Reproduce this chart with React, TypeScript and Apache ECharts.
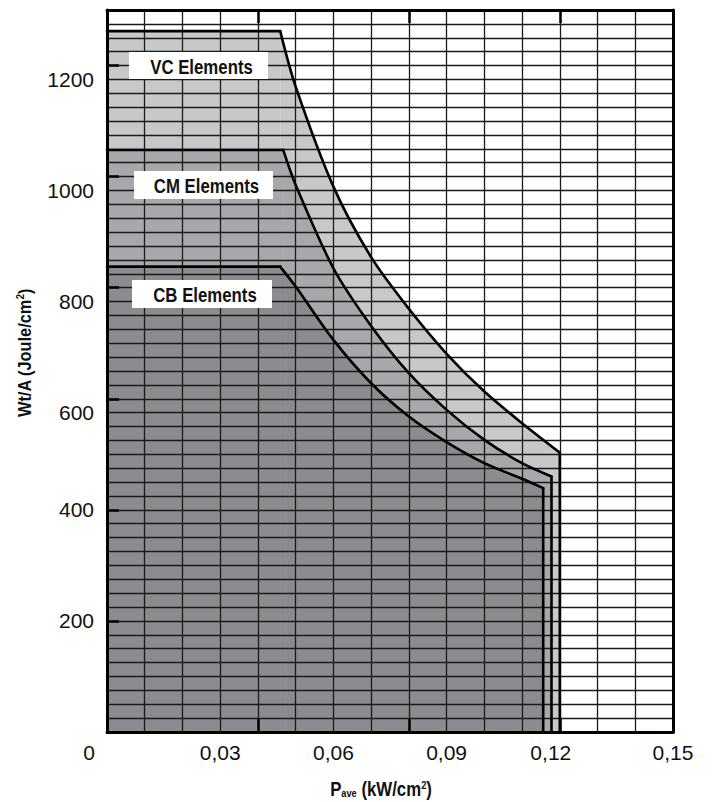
import React, { useEffect, useRef } from "react";
import * as echarts from "echarts";

// ---- data ----
const vcX = [0, 0.0459, 0.05, 0.06, 0.07, 0.08, 0.09, 0.1, 0.11, 0.12, 0.12];
const vcY = [1262, 1262, 1162, 982, 855, 762, 681, 613, 556, 503, 0];
const cmX = [0, 0.0467, 0.05, 0.06, 0.07, 0.08, 0.09, 0.1, 0.11, 0.1178, 0.1178];
const cmY = [1048, 1048, 985, 835, 731, 646, 580, 526, 484, 460, 0];
const cbX = [0, 0.0459, 0.05, 0.06, 0.07, 0.08, 0.09, 0.1, 0.11, 0.1156, 0.1156];
const cbY = [838, 838, 802, 706, 628, 568, 522, 484, 456, 439, 0];

const seriesNames = ["VC Elements", "CM Elements", "CB Elements"];
const xTickValues = [0, 3, 6, 9, 12, 15]; // hundredths
const xTickLabels = ["0", "0,03", "0,06", "0,09", "0,12", "0,15"];
const yTickValues = [200, 400, 600, 800, 1000, 1200];
const yTickLabels = ["200", "400", "600", "800", "1000", "1200"];

const REG = "'Liberation Sans', Arial, Helvetica, sans-serif";

const pairs = (xs: number[], ys: number[]) => xs.map((x, i) => [x, ys[i]]);

export default function App() {
  const ref = useRef<HTMLDivElement>(null);
  useEffect(() => {
    if (!ref.current) return;
    const chart = echarts.init(ref.current, null, { renderer: "svg" });
    const fills = ["#c7c8ca", "#a7a8ab", "#8b8c8f"];
    const datas = [pairs(vcX, vcY), pairs(cmX, cmY), pairs(cbX, cbY)];

    const series: any[] = [];
    datas.forEach((d, i) => {
      const n = d.length;
      const flat = d.slice(0, 2);
      const curve = d.slice(1, n - 1);
      const vert = d.slice(n - 2);
      const zf = 1 + i * 0.1;
      const base = { type: "line", xAxisIndex: 0, yAxisIndex: 0, symbol: "none", silent: true };
      // fills
      series.push({
        ...base,
        name: seriesNames[i] + " fill a",
        data: flat,
        z: zf,
        lineStyle: { width: 0, color: fills[i] },
        areaStyle: { color: fills[i], opacity: 1 },
      });
      series.push({
        ...base,
        name: seriesNames[i] + " fill b",
        data: curve,
        smooth: 0.3,
        z: zf,
        lineStyle: { width: 0, color: fills[i] },
        areaStyle: { color: fills[i], opacity: 1 },
      });
      // outlines
      const ls = { width: 2.6, color: "#000", cap: "round", join: "round" };
      series.push({ ...base, name: seriesNames[i], data: flat, z: 10, lineStyle: ls });
      series.push({
        ...base,
        name: seriesNames[i] + " curve",
        data: curve,
        smooth: 0.3,
        z: 10,
        lineStyle: ls,
      });
      series.push({ ...base, name: seriesNames[i] + " edge", data: vert, z: 10, lineStyle: ls });
    });

    const tickAxisX = (pos: string, line: boolean) => ({
      type: "value",
      min: 0,
      max: 0.15,
      interval: 0.04,
      position: pos,
      z: 6,
      axisLine: { show: line, onZero: false, lineStyle: { color: "#000", width: 3 } },
      axisTick: { show: true, inside: true, length: 13, lineStyle: { color: "#000", width: 2.5 } },
      axisLabel: { show: false },
      splitLine: { show: false },
    });

    const option: any = {
      animation: false,
      grid: { left: 107, right: 42, top: 10, bottom: 70, containLabel: false },
      xAxis: [
        {
          type: "value",
          min: 0,
          max: 0.15,
          interval: 0.01,
          position: "bottom",
          z: 5,
          axisLine: { show: true, onZero: false, lineStyle: { color: "#000", width: 3 } },
          axisTick: { show: false },
          splitLine: { show: true, lineStyle: { color: "#1a1a1a", width: 1.3 } },
          axisLabel: {
            showMinLabel: true,
            showMaxLabel: true,
            margin: 10,
            color: "#111",
            fontSize: 21,
            fontFamily: REG,
            formatter: (v: number) => {
              const k = Math.round(v * 100);
              const i = xTickValues.indexOf(k);
              if (i < 0) return "";
              if (k === 0) return "{z|" + xTickLabels[i] + "}";
              if (k === 12) return "{t|" + xTickLabels[i] + "}";
              return "{n|" + xTickLabels[i] + "}";
            },
            rich: {
              n: { fontSize: 21, fontFamily: REG, color: "#111" },
              z: { fontSize: 21, fontFamily: REG, color: "#111", padding: [0, 36, 0, 0] },
              t: { fontSize: 21, fontFamily: REG, color: "#111", padding: [0, 18, 0, 0] },
            },
          },
        },
        tickAxisX("bottom", false),
        tickAxisX("top", true),
      ],
      yAxis: [
        {
          type: "value",
          min: 0,
          max: 1300,
          interval: 25,
          position: "left",
          z: 5,
          axisLine: { show: true, onZero: false, lineStyle: { color: "#000", width: 3 } },
          axisTick: { show: false },
          axisLabel: { show: false },
          splitLine: { show: true, lineStyle: { color: "#1a1a1a", width: 1.3 } },
        },
        {
          type: "value",
          min: 0,
          max: 1300,
          interval: 200,
          position: "left",
          z: 6,
          axisLine: { show: false },
          axisTick: { show: true, inside: true, length: 12, lineStyle: { color: "#000", width: 2.5 } },
          splitLine: { show: false },
          axisLabel: {
            margin: 13,
            color: "#111",
            fontSize: 21,
            fontFamily: REG,
            formatter: (v: number) => {
              const i = yTickValues.indexOf(Math.round(v));
              if (i < 0) return "";
              return (v >= 600 ? "{lo|" : "{hi|") + yTickLabels[i] + "}";
            },
            rich: {
              hi: { fontSize: 21, fontFamily: REG, color: "#111" },
              lo: { fontSize: 21, fontFamily: REG, color: "#111", padding: [28, 0, 0, 0] },
            },
          },
        },
        {
          type: "value",
          min: 0,
          max: 1300,
          interval: 1300,
          position: "right",
          z: 6,
          axisLine: { show: true, onZero: false, lineStyle: { color: "#000", width: 3 } },
          axisTick: { show: false },
          axisLabel: { show: false },
          splitLine: { show: false },
        },
      ],
      series,
      graphic: [
        {
          type: "text",
          x: 25,
          y: 353,
          rotation: Math.PI / 2,
          scaleX: 0.86,
          z: 30,
          style: {
            text: "Wt/A (Joule/cm{sup|2})",
            align: "center",
            verticalAlign: "middle",
            fontSize: 19,
            fontWeight: "bold",
            fontFamily: REG,
            fill: "#111",
            rich: {
              sup: { fontSize: 11, fontWeight: "bold", fontFamily: REG, padding: [0, 0, 9, 0] },
            },
          },
        },
        {
          type: "text",
          x: 381,
          y: 789,
          scaleX: 0.84,
          z: 30,
          style: {
            text: "P{sub|ave} (kW/cm{sup|2})",
            align: "center",
            verticalAlign: "middle",
            fontSize: 20,
            fontWeight: "bold",
            fontFamily: REG,
            fill: "#111",
            rich: {
              sub: { fontSize: 11, fontWeight: "bold", fontFamily: REG, padding: [8, 0, 0, 0] },
              sup: { fontSize: 11, fontWeight: "bold", fontFamily: REG, padding: [0, 0, 8, 0] },
            },
          },
        },
        ...[
          { x: 129, y: 52, w: 139, h: 27 },
          { x: 134, y: 171, w: 139, h: 28 },
          { x: 132, y: 280, w: 140, h: 28 },
        ].map((b, i) => ({
          type: "group",
          z: 30,
          children: [
            { type: "rect", z: 30, shape: { x: b.x, y: b.y, width: b.w, height: b.h }, style: { fill: "#fff" } },
            {
              type: "text",
              z: 31,
              x: b.x + b.w / 2 + 3,
              y: b.y + b.h / 2 + 1,
              scaleX: 0.84,
              style: {
                text: seriesNames[i],
                align: "center",
                verticalAlign: "middle",
                fontSize: 20,
                fontWeight: "bold",
                fontFamily: REG,
                fill: "#111",
              },
            },
          ],
        })),
      ],
    };
    chart.setOption(option);
    return () => chart.dispose();
  }, []);
  return (
    <div
      ref={ref}
      style={{ position: "fixed", left: 0, top: 0, width: 715, height: 802, background: "#fff" }}
    />
  );
}
